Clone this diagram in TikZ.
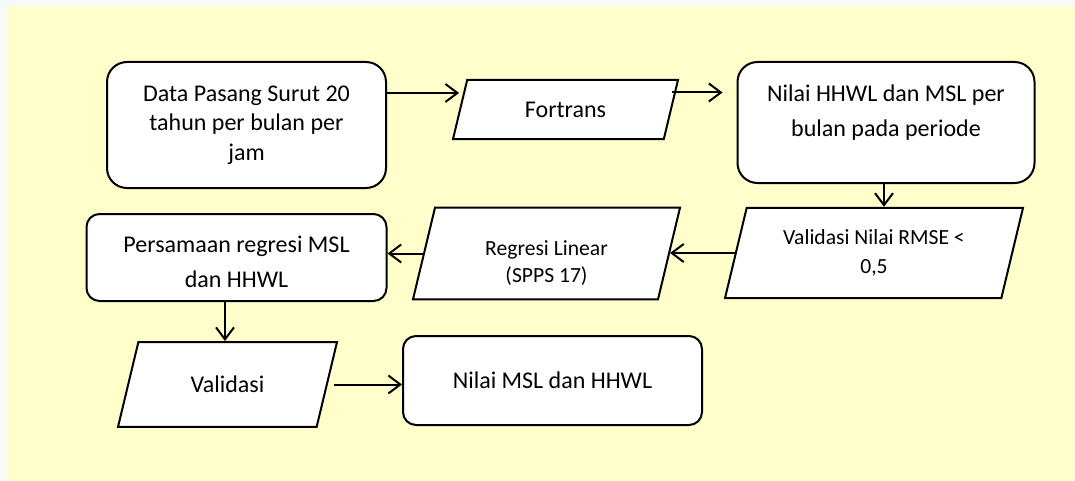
\documentclass[tikz,border=0pt]{standalone}
\usepackage{fontspec}
\setmainfont{Carlito}
\usetikzlibrary{shapes.geometric,arrows.meta,calc}

\definecolor{fond}{RGB}{255,255,204}
\definecolor{marge}{RGB}{246,251,250}

\tikzset{
  boite/.style={draw, line width=1pt, fill=white, rounded corners=10pt,
    align=center, inner sep=2pt, font=\fontsize{12}{14.75}\selectfont},
  entree/.style={draw, line width=1pt, fill=white, trapezium,
    trapezium left angle=76.5, trapezium right angle=103.5,
    trapezium stretches body, align=center, inner xsep=1pt},
  petit/.style={font=\fontsize{10.8}{13.5}\selectfont},
  grand/.style={font=\fontsize{12}{14.75}\selectfont},
  fleche/.style={line width=1pt, -{Straight Barb[length=6pt,width=9pt]}},
}

\begin{document}
\begin{tikzpicture}[x=0.5pt, y=-0.5pt]

    % Fond
    \useasboundingbox (0,0) rectangle (1075,481);
    \fill[marge] (0,0) rectangle (1075,481);
    \fill[fond] (7,6) rectangle (1075,481);

    % Ligne du haut
    \node[boite, minimum width=139.5pt, minimum height=63pt] (data) at (246.5,125)
        {Data Pasang Surut 20\\tahun per bulan per\\jam};
    \node[entree, grand, minimum width=112.5pt, inner ysep=10.9pt] (fortrans) at (565.5,109.5)
        {Fortrans};
    \node[boite, minimum width=148.5pt, minimum height=60.5pt] (nilaibulan) at (886,122.5)
        {Nilai HHWL dan MSL per\\[2.75pt]bulan pada periode\\[-3pt]\mbox{}};

    % Ligne du milieu
    \node[entree, petit, minimum width=149pt, inner ysep=10.9pt] (rmse) at (874,253)
        {Validasi Nilai RMSE <\\[1pt]0,5};
    \node[entree, petit, minimum width=133.5pt, inner ysep=7.15pt] (regresi) at (546.5,253.5)
        {\mbox{}\\[3pt]Regresi Linear\\(SPPS 17)};
    \node[boite, rounded corners=6.5pt, minimum width=150pt, minimum height=43.5pt] (persamaan) at (236.5,257.5)
        {\mbox{}\\[-1.9pt]Persamaan regresi MSL\\[2.75pt]dan HHWL};

    % Ligne du bas
    \node[entree, grand, minimum width=109.5pt, inner ysep=17pt] (validasi) at (227.5,384.5)
        {Validasi};
    \node[boite, rounded corners=6.5pt, minimum width=149.5pt, minimum height=44.5pt] (nilaimsl) at (552.5,380.5)
        {Nilai MSL dan HHWL};

    % Flèches
    \draw[fleche] ([yshift=16pt]data.east) -- ([yshift=16pt]data.east -| fortrans.west);
    \draw[fleche, shorten >=7pt] ([yshift=8.5pt]fortrans.east) -- ([yshift=8.5pt]fortrans.east -| nilaibulan.west);
    \draw[fleche] ([xshift=-1pt]nilaibulan.south) -- ([xshift=-1pt]nilaibulan.south |- rmse.north);
    \draw[fleche] (rmse.west) -- (rmse.west -| regresi.east);
    \draw[fleche] (regresi.west) -- (regresi.west -| persamaan.east);
    \draw[fleche] ([xshift=-5.75pt]persamaan.south) -- ([xshift=-5.75pt]persamaan.south |- validasi.north);
    \draw[fleche, shorten <=3pt] (validasi.east) -- (validasi.east -| nilaimsl.west);

\end{tikzpicture}
\end{document}
